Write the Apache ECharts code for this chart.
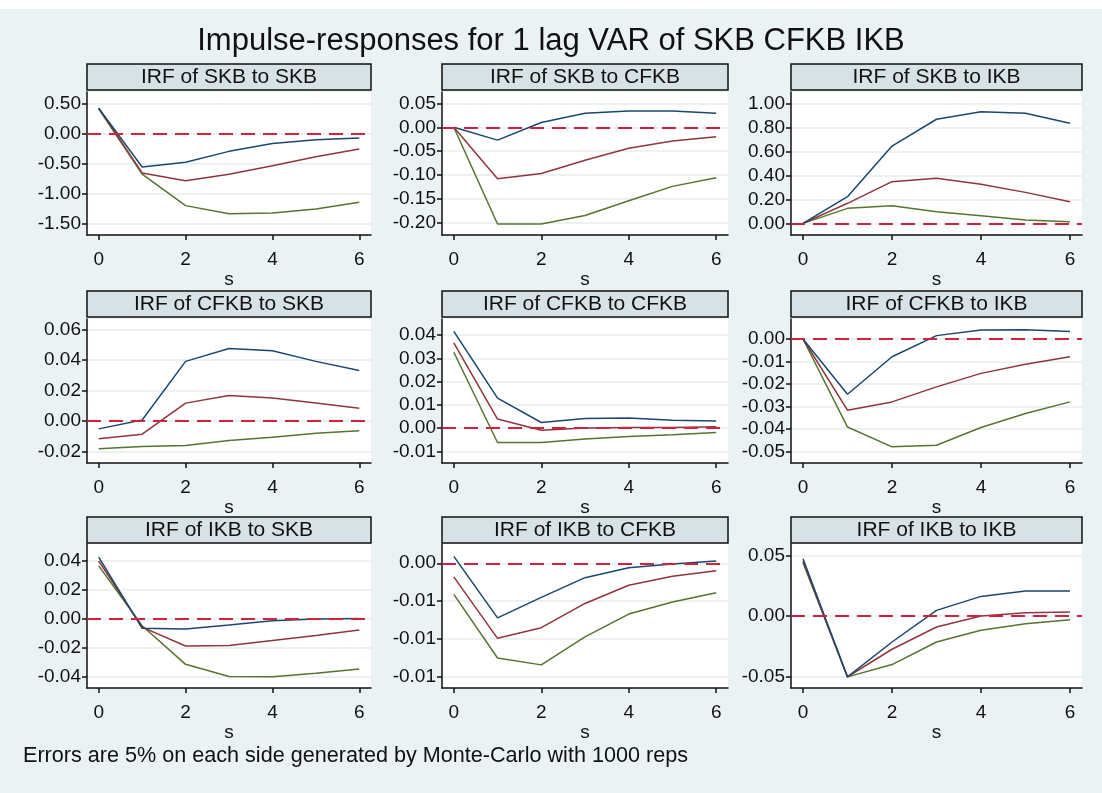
<!DOCTYPE html>
<html>
<head>
<meta charset="utf-8">
<title>Impulse-responses</title>
<script src="https://cdn.jsdelivr.net/npm/echarts@6/dist/echarts.min.js"></script>
<style>
  html, body { margin: 0; padding: 0; background: #eaf2f3; }
  #main { width: 1102px; height: 793px; }
</style>
</head>
<body>
<div id="main"></div>
<script>
// steps of the impulse response
var steps = [0, 1, 2, 3, 4, 5, 6];
var xTicks = [0, 2, 4, 6];

var panelTitles = [
    'IRF of SKB to SKB', 'IRF of SKB to CFKB', 'IRF of SKB to IKB',
    'IRF of CFKB to SKB', 'IRF of CFKB to CFKB', 'IRF of CFKB to IKB',
    'IRF of IKB to SKB', 'IRF of IKB to CFKB', 'IRF of IKB to IKB'
];

// hi = upper band (blue), mid = irf (red), lo = lower band (green)
var skbSkbHi = [0.42, -0.56, -0.48, -0.30, -0.17, -0.105, -0.077];
var skbSkbMid = [0.42, -0.66, -0.79, -0.68, -0.54, -0.39, -0.26];
var skbSkbLo = [0.41, -0.68, -1.205, -1.34, -1.33, -1.26, -1.15];
var skbSkbTicks = [-1.5, -1, -0.5, 0, 0.5];

var skbCfkbHi = [0, -0.027, 0.010, 0.0295, 0.034, 0.034, 0.0295];
var skbCfkbMid = [0, -0.108, -0.097, -0.069, -0.044, -0.029, -0.020];
var skbCfkbLo = [0, -0.203, -0.203, -0.185, -0.154, -0.124, -0.106];
var skbCfkbTicks = [-0.2, -0.15, -0.1, -0.05, 0, 0.05];

var skbIkbHi = [0, 0.222, 0.644, 0.867, 0.93, 0.917, 0.833];
var skbIkbMid = [0, 0.167, 0.347, 0.375, 0.325, 0.258, 0.18];
var skbIkbLo = [0, 0.125, 0.147, 0.097, 0.063, 0.028, 0.013];
var skbIkbTicks = [0, 0.2, 0.4, 0.6, 0.8, 1.0];

var cfkbSkbHi = [-0.0053, 0.0005, 0.039, 0.0474, 0.046, 0.039, 0.033];
var cfkbSkbMid = [-0.0118, -0.0088, 0.0116, 0.0166, 0.0149, 0.0116, 0.0083];
var cfkbSkbLo = [-0.0184, -0.0169, -0.0162, -0.013, -0.0108, -0.0082, -0.0066];
var cfkbSkbTicks = [-0.02, 0, 0.02, 0.04, 0.06];

var cfkbCfkbHi = [0.0416, 0.0129, 0.0024, 0.0041, 0.0043, 0.0034, 0.0031];
var cfkbCfkbMid = [0.0366, 0.0039, -0.0009, 0.0, 0.0003, 0.0003, 0.0006];
var cfkbCfkbLo = [0.0326, -0.0062, -0.0062, -0.0047, -0.0036, -0.0029, -0.0019];
var cfkbCfkbTicks = [-0.01, 0, 0.01, 0.02, 0.03, 0.04];

var cfkbIkbHi = [0, -0.0246, -0.0079, 0.0015, 0.004, 0.0041, 0.0033];
var cfkbIkbMid = [0, -0.0317, -0.028, -0.0213, -0.0153, -0.0112, -0.0079];
var cfkbIkbLo = [0, -0.0392, -0.048, -0.0473, -0.0394, -0.0332, -0.028];
var cfkbIkbTicks = [-0.05, -0.04, -0.03, -0.02, -0.01, 0];

var ikbSkbHi = [0.0423, -0.0068, -0.0072, -0.0045, -0.0016, -0.0004, 0.0];
var ikbSkbMid = [0.0396, -0.006, -0.019, -0.0186, -0.0151, -0.0117, -0.0079];
var ikbSkbLo = [0.0362, -0.005, -0.0316, -0.040, -0.0401, -0.0377, -0.0348];
var ikbSkbTicks = [-0.04, -0.02, 0, 0.02, 0.04];

var ikbCfkbHi = [0.0009, -0.0072, -0.0045, -0.0019, -0.0006, -0.0001, 0.0003];
var ikbCfkbMid = [-0.0018, -0.0099, -0.0085, -0.0053, -0.0029, -0.0017, -0.0010];
var ikbCfkbLo = [-0.0041, -0.0125, -0.0134, -0.0097, -0.0067, -0.0051, -0.0039];
var ikbCfkbTicks = [-0.015, -0.01, -0.005, 0];

var ikbIkbHi = [0.0474, -0.0504, -0.0215, 0.0047, 0.0163, 0.0207, 0.0207];
var ikbIkbMid = [0.0455, -0.0504, -0.0275, -0.0091, 0.0, 0.0028, 0.0033];
var ikbIkbLo = [0.0441, -0.0504, -0.0402, -0.0215, -0.0118, -0.0063, -0.003];
var ikbIkbTicks = [-0.05, 0, 0.05];

var panels = [
    { hi: skbSkbHi, mid: skbSkbMid, lo: skbSkbLo, ticks: skbSkbTicks, min: -1.695, max: 0.69 },
    { hi: skbCfkbHi, mid: skbCfkbMid, lo: skbCfkbLo, ticks: skbCfkbTicks, min: -0.226, max: 0.074 },
    { hi: skbIkbHi, mid: skbIkbMid, lo: skbIkbLo, ticks: skbIkbTicks, min: -0.097, max: 1.094 },
    { hi: cfkbSkbHi, mid: cfkbSkbMid, lo: cfkbSkbLo, ticks: cfkbSkbTicks, min: -0.0277, max: 0.0668 },
    { hi: cfkbCfkbHi, mid: cfkbCfkbMid, lo: cfkbCfkbLo, ticks: cfkbCfkbTicks, min: -0.015, max: 0.0469 },
    { hi: cfkbIkbHi, mid: cfkbIkbMid, lo: cfkbIkbLo, ticks: cfkbIkbTicks, min: -0.0552, max: 0.0089 },
    { hi: ikbSkbHi, mid: ikbSkbMid, lo: ikbSkbLo, ticks: ikbSkbTicks, min: -0.0479, max: 0.0513 },
    { hi: ikbCfkbHi, mid: ikbCfkbMid, lo: ikbCfkbLo, ticks: ikbCfkbTicks, min: -0.01645, max: 0.00254 },
    { hi: ikbIkbHi, mid: ikbIkbMid, lo: ikbIkbLo, ticks: ikbIkbTicks, min: -0.0596, max: 0.0597 }
];

var myChart = echarts.init(document.getElementById('main'));

var font = 'Liberation Sans, Arial, sans-serif';
var colLeft = [87, 442, 791];
var colRight = [371, 728, 1082];
var headTop = [64, 291, 517];
var plotTop = [92, 319, 544];
var plotBottom = [235, 463, 688];
var lineColors = { hi: '#1a476f', mid: '#90353b', lo: '#55752f' };

function zip(ys) {
    return steps.map(function (s, k) { return [s, ys[k]]; });
}

var grids = [], xAxes = [], yAxes = [], series = [];
var graphics = [
    { type: 'rect', shape: { x: 0, y: 0, width: 1102, height: 9 }, style: { fill: '#fff' }, silent: true },
    {
        type: 'text', x: 551, y: 41,
        style: { text: 'Impulse-responses for 1 lag VAR of SKB CFKB IKB', font: '31px ' + font, fill: '#111', textAlign: 'center', textVerticalAlign: 'middle' }
    },
    {
        type: 'text', x: 23, y: 756,
        style: { text: 'Errors are 5% on each side generated by Monte-Carlo with 1000 reps', font: '21.6px ' + font, fill: '#111', textAlign: 'left', textVerticalAlign: 'middle' }
    }
];

panels.forEach(function (p, i) {
    var r = Math.floor(i / 3), c = i % 3;
    var left = colLeft[c], right = colRight[c];
    grids.push({
        left: left, top: plotTop[r], width: right - left, height: plotBottom[r] - plotTop[r],
        show: true, backgroundColor: '#fff', borderWidth: 0
    });
    xAxes.push({
        type: 'value', gridIndex: i, min: -0.27, max: 6.27,
        axisLine: { show: true, onZero: false, lineStyle: { color: '#111', width: 1.5 } },
        axisTick: { show: true, length: 5, customValues: xTicks, lineStyle: { color: '#111', width: 1.5 } },
        axisLabel: { customValues: xTicks, margin: 15, fontSize: 19, color: '#111', fontFamily: font },
        splitLine: { show: false },
        name: 's', nameLocation: 'middle', nameGap: 28,
        nameTextStyle: { fontSize: 19, color: '#111', fontFamily: font }
    });
    yAxes.push({
        type: 'value', gridIndex: i, min: p.min, max: p.max,
        axisLine: { show: true, onZero: false, lineStyle: { color: '#111', width: 1.5 } },
        axisTick: { show: true, length: 5, customValues: p.ticks, lineStyle: { color: '#111', width: 1.5 } },
        axisLabel: {
            customValues: p.ticks, margin: 6, fontSize: 19, color: '#111', fontFamily: font,
            formatter: function (v) { return v.toFixed(2); }
        },
        splitLine: { show: true, lineStyle: { color: '#e6eef0', width: 1.5 } }
    });
    // zero reference line
    series.push({
        type: 'line', xAxisIndex: i, yAxisIndex: i, data: [], z: 1, silent: true,
        markLine: {
            silent: true, symbol: ['none', 'none'], label: { show: false },
            lineStyle: { color: '#d1223f', width: 2, type: [14, 8] },
            data: [{ yAxis: 0 }]
        }
    });
    ['lo', 'mid', 'hi'].forEach(function (k) {
        series.push({
            type: 'line', xAxisIndex: i, yAxisIndex: i, data: zip(p[k]), z: 3,
            showSymbol: false, silent: true,
            lineStyle: { color: lineColors[k], width: 1.5 }
        });
    });
    // panel header
    graphics.push({
        type: 'rect', shape: { x: left, y: headTop[r], width: right - left, height: 26 },
        style: { fill: '#d7e2e6', stroke: '#111', lineWidth: 1.5 }, silent: true
    });
    graphics.push({
        type: 'text', x: (left + right) / 2, y: headTop[r] + 13,
        style: { text: panelTitles[i], font: '21px ' + font, fill: '#111', textAlign: 'center', textVerticalAlign: 'middle' }
    });
});

var option = {
    backgroundColor: '#eaf2f3',
    animation: false,
    grid: grids,
    xAxis: xAxes,
    yAxis: yAxes,
    series: series,
    graphic: { elements: graphics }
};
myChart.setOption(option);
</script>
</body>
</html>
